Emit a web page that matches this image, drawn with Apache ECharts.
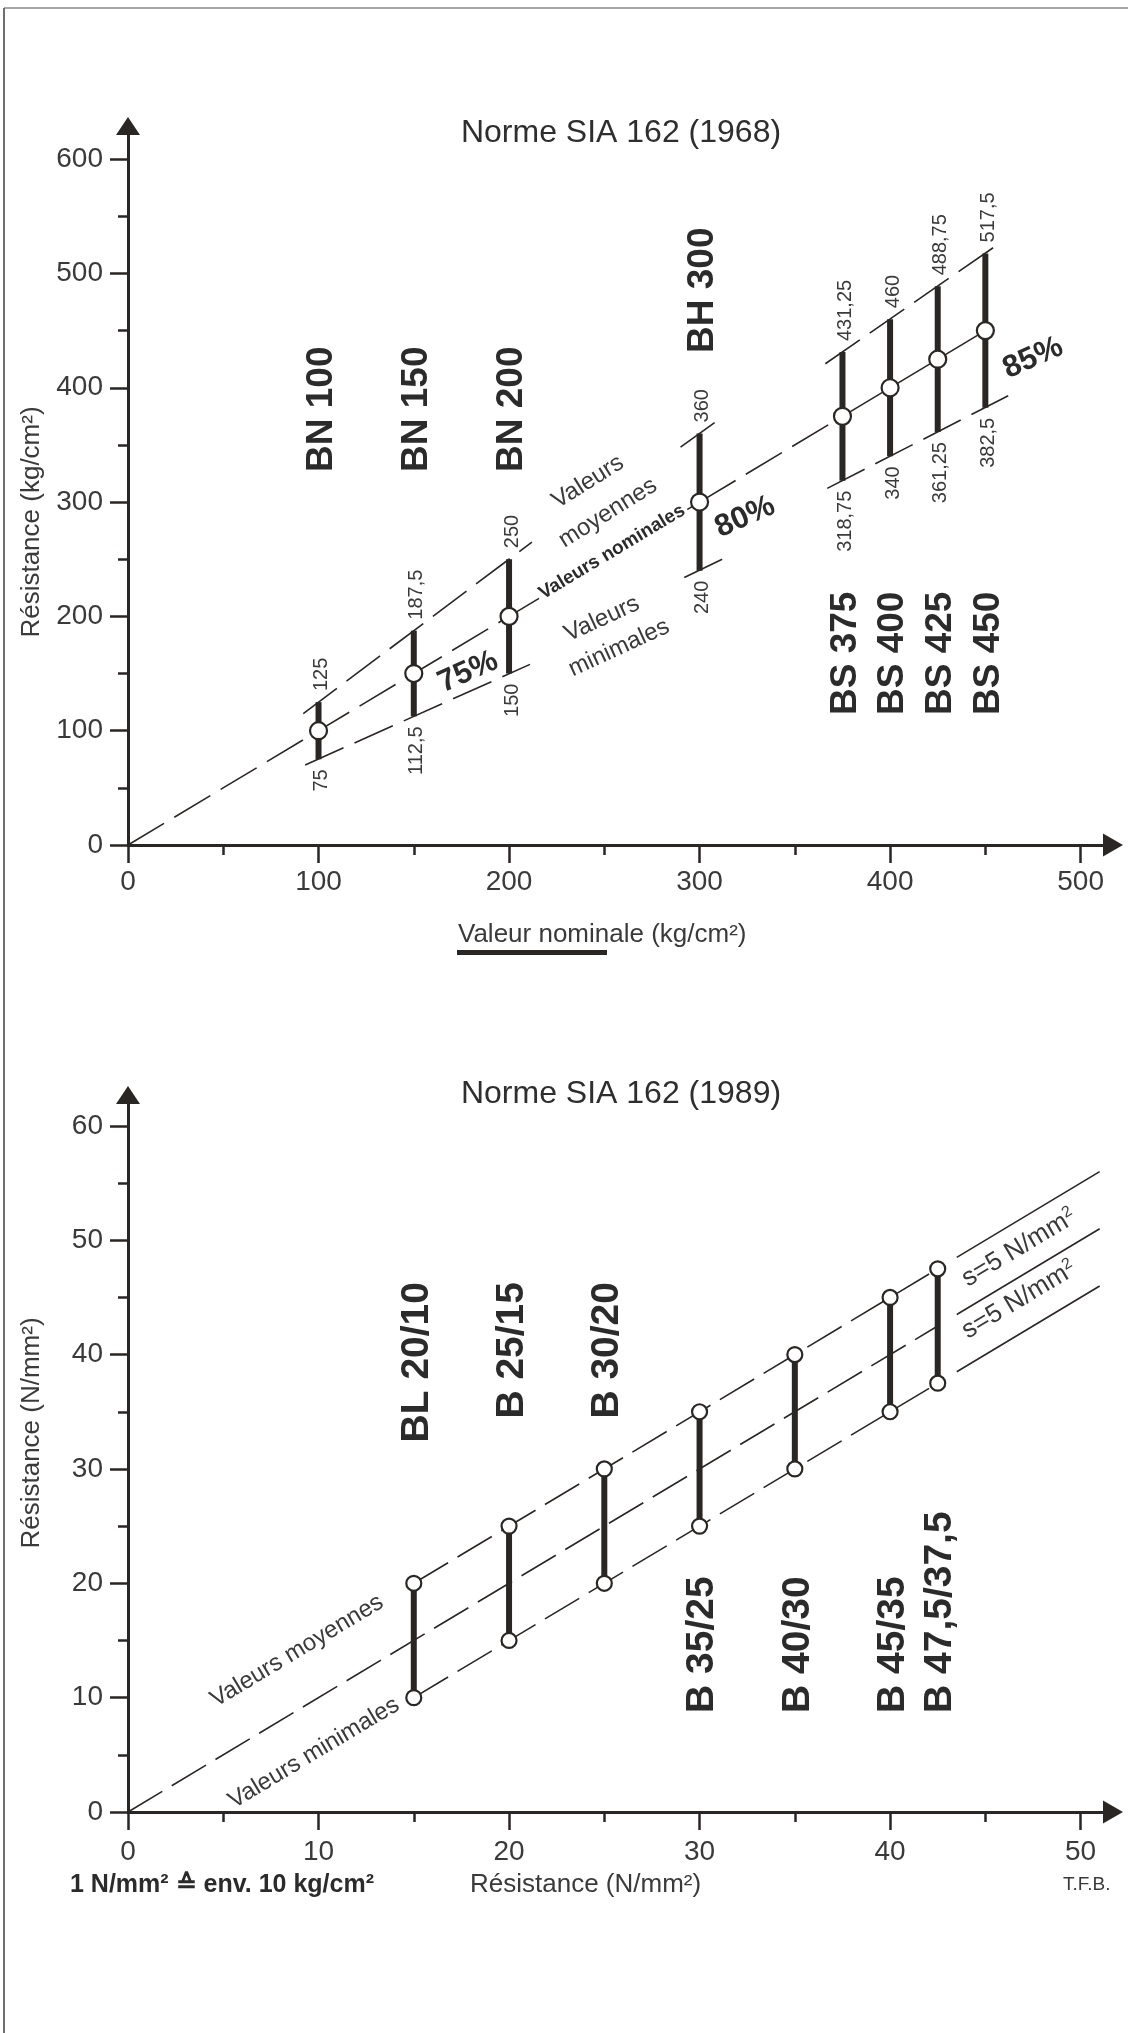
<!DOCTYPE html>
<html>
<head>
<meta charset="utf-8">
<script src="https://cdn.jsdelivr.net/npm/echarts@6/dist/echarts.min.js"></script>
<style>
  html, body { margin: 0; padding: 0; background: #fff; }
  #chart { width: 1128px; height: 2033px; }
</style>
</head>
<body>
<div id="chart"></div>
<script>
// ---------- Norme SIA 162 (1968), kg/cm2 ----------
const grades1968 = ['BN 100', 'BN 150', 'BN 200', 'BH 300', 'BS 375', 'BS 400', 'BS 425', 'BS 450'];
const nominal1968 = [100, 150, 200, 300, 375, 400, 425, 450];
const mean1968 = [125, 187.5, 250, 360, 431.25, 460, 488.75, 517.5];
const min1968 = [75, 112.5, 150, 240, 318.75, 340, 361.25, 382.5];
const pct1968 = ['75%', '80%', '85%'];
const xTicks1968 = [0, 100, 200, 300, 400, 500];
const xMinor1968 = [50, 150, 250, 350, 450];
const yTicks1968 = [0, 100, 200, 300, 400, 500, 600];
const yMinor1968 = [50, 150, 250, 350, 450, 550];

// guide lines, end points
const nominalDashed1968 = [[[0, 0], [200, 200]], [[300, 300], [375, 375]]];
const nominalText1968 = [[200, 200], [300, 300]];
const nominalSolid1968 = [[375, 375], [450, 450]];
const meanGuide1968 = [[[92, 115], [212, 265]], [[290, 348], [310, 372]], [[366, 421], [458, 527]]];
const minGuide1968 = [[[93, 70], [211, 158]], [[292, 234], [312, 250]], [[367, 312], [462, 393]]];

// ---------- Norme SIA 162 (1989), N/mm2 ----------
const grades1989 = ['BL 20/10', 'B 25/15', 'B 30/20', 'B 35/25', 'B 40/30', 'B 45/35', 'B 47,5/37,5'];
const nominal1989 = [15, 20, 25, 30, 35, 40, 42.5];
const mean1989 = [20, 25, 30, 35, 40, 45, 47.5];
const min1989 = [10, 15, 20, 25, 30, 35, 37.5];
const xTicks1989 = [0, 10, 20, 30, 40, 50];
const xMinor1989 = [5, 15, 25, 35, 45];
const yTicks1989 = [0, 10, 20, 30, 40, 50, 60];
const yMinor1989 = [5, 15, 25, 35, 45, 55];

const meanDashed1989 = [[15, 20], [42.5, 47.5]];
const nominalDashed1989 = [[0, 0], [42.5, 42.5]];
const minDashed1989 = [[15, 10], [42.5, 37.5]];
const meanSolid1989 = [[43.5, 48.5], [51, 56]];
const nominalSolid1989 = [[43.5, 43.5], [51, 51]];
const minSolid1989 = [[43.5, 38.5], [51, 46]];

const ink = '#2a2624';
const txt = '#3a3a3a';
const FONT = "'Liberation Sans', Arial, Helvetica, sans-serif";
const fmt = v => String(v).replace('.', ',');

function axes(kind, gridIndex, max, majors, minors, margin) {
  const x = kind === 'x';
  const major = {
    type: 'value', gridIndex: gridIndex, min: 0, max: max,
    position: x ? 'bottom' : 'left',
    splitLine: { show: false },
    axisLine: {
      show: true, onZero: false,
      symbol: ['none', 'triangle'],
      symbolSize: x ? [23, 20] : [24, 18],
      lineStyle: { color: ink, width: 3 }
    },
    axisTick: { show: true, inside: false, length: 18, customValues: majors, lineStyle: { color: ink, width: 2.5 } },
    axisLabel: { show: true, customValues: majors, margin: margin, color: txt, fontSize: 28, fontFamily: FONT }
  };
  const minor = {
    type: 'value', gridIndex: gridIndex, min: 0, max: max,
    position: x ? 'bottom' : 'left',
    splitLine: { show: false },
    axisLine: { show: false, onZero: false },
    axisTick: { show: true, inside: false, length: 10, customValues: minors, lineStyle: { color: ink, width: 2.5 } },
    axisLabel: { show: false }
  };
  return [major, minor];
}

function seg(pts, g, dash, width) {
  return {
    type: 'line', xAxisIndex: g * 2, yAxisIndex: g * 2,
    data: pts, symbol: 'none', silent: true, z: 2,
    lineStyle: { color: ink, width: width || 1.6, type: dash ? dash : 'solid' }
  };
}

function bars(g, xs, lows, highs, width) {
  return {
    type: 'custom', xAxisIndex: g * 2, yAxisIndex: g * 2, z: 3, silent: true,
    data: xs.map((v, i) => [v, lows[i], highs[i]]),
    encode: { x: 0, y: [1, 2] },
    renderItem: (params, api) => {
      const p0 = api.coord([api.value(0), api.value(1)]);
      const p1 = api.coord([api.value(0), api.value(2)]);
      return { type: 'line', shape: { x1: p0[0], y1: p0[1], x2: p1[0], y2: p1[1] }, style: { stroke: ink, lineWidth: width } };
    }
  };
}

function dots(g, pts, size) {
  return {
    type: 'scatter', xAxisIndex: g * 2, yAxisIndex: g * 2, z: 4, silent: true,
    data: pts, symbol: 'circle', symbolSize: size,
    itemStyle: { color: '#fff', borderColor: ink, borderWidth: 2.2, opacity: 1 }
  };
}

// value labels of the 1968 chart, written upward above / below each bar
const valueLabels1968 = {
  type: 'custom', xAxisIndex: 0, yAxisIndex: 0, z: 5, silent: true,
  data: nominal1968.map((v, i) => [v, min1968[i], mean1968[i]]),
  encode: { x: 0, y: [1, 2] },
  renderItem: (params, api) => {
    const top = api.coord([api.value(0), api.value(2)]);
    const bot = api.coord([api.value(0), api.value(1)]);
    const st = { fill: txt, fontSize: 20, fontFamily: FONT, verticalAlign: 'middle' };
    return {
      type: 'group', children: [
        { type: 'text', x: top[0] + 3, y: top[1] - 11, rotation: Math.PI / 2,
          style: Object.assign({ text: fmt(api.value(2)), align: 'left' }, st) },
        { type: 'text', x: bot[0] + 3, y: bot[1] + 10, rotation: Math.PI / 2,
          style: Object.assign({ text: fmt(api.value(1)), align: 'right' }, st) }
      ]
    };
  }
};

// grade names, vertical, start (align left) or end (align right) at a fixed pixel row
function gradeLabels(g, names, xs, rowOf, fontSize) {
  return {
    type: 'custom', xAxisIndex: g * 2, yAxisIndex: g * 2, z: 5, silent: true,
    data: xs.map(v => [v, 0]),
    encode: { x: 0, y: 1 },
    renderItem: (params, api) => {
      const p = api.coord([api.value(0), 0]);
      const row = rowOf(params.dataIndex);
      return {
        type: 'text', x: p[0] + 3, y: row[0], rotation: Math.PI / 2,
        style: { text: names[params.dataIndex], align: row[1], verticalAlign: 'middle',
          fill: '#2b2b2b', fontSize: fontSize, fontWeight: 'bold', fontFamily: FONT }
      };
    }
  };
}

const row1968 = i => grades1968[i].startsWith('BN') ? [472, 'left'] : grades1968[i].startsWith('BH') ? [353, 'left'] : [715, 'left'];
const row1989 = i => i < 3 ? [1282, 'right'] : [1713, 'left'];

const [x1, x1m] = axes('x', 0, 517, xTicks1968, xMinor1968, 23);
const [y1, y1m] = axes('y', 0, 629, yTicks1968, yMinor1968, 25);
const [x2, x2m] = axes('x', 1, 51.7, xTicks1989, xMinor1989, 26);
const [y2, y2m] = axes('y', 1, 62.7, yTicks1989, yMinor1989, 25);

const dash1 = [42, 12];
const dash2 = [40, 11];

const series = [];
// 1968
nominalDashed1968.forEach(s => series.push(seg(s, 0, dash1)));
series.push(seg(nominalText1968, 0));
series.push(seg(nominalSolid1968, 0));
meanGuide1968.forEach(s => series.push(seg(s, 0, dash1)));
minGuide1968.forEach(s => series.push(seg(s, 0, dash1)));
series.push(bars(0, nominal1968, min1968, mean1968, 6));
series.push(dots(0, nominal1968.map(v => [v, v]), 17));
series.push(valueLabels1968);
series.push(gradeLabels(0, grades1968, nominal1968, row1968, 37));
// 1989
[meanDashed1989, nominalDashed1989, minDashed1989].forEach(s => series.push(seg(s, 1, dash2)));
[meanSolid1989, nominalSolid1989, minSolid1989].forEach(s => series.push(seg(s, 1)));
series.push(bars(1, nominal1989, min1989, mean1989, 6));
series.push(dots(1, nominal1989.map((v, i) => [v, mean1989[i]]).concat(nominal1989.map((v, i) => [v, min1989[i]])), 15));
series.push(gradeLabels(1, grades1989, nominal1989, row1989, 39));

function label(text, x, y, opts) {
  const o = opts || {};
  return {
    type: 'text', x: x, y: y, rotation: o.rot || 0, z: 100,
    style: Object.assign({
      text: text, fill: o.fill || txt, fontSize: o.size || 24, fontFamily: FONT,
      fontWeight: o.bold ? 'bold' : 'normal', align: o.align || 'center', verticalAlign: 'middle'
    }, o.extra || {})
  };
}

const sup = { sup: { fontSize: 16, verticalAlign: 'top', padding: [0, 0, 12, 0], fill: txt, fontFamily: FONT } };

const graphic = [
  // scan frame
  { type: 'line', shape: { x1: 4, y1: 8, x2: 1128, y2: 8 }, style: { stroke: '#8a8a8a', lineWidth: 1.5 } },
  { type: 'line', shape: { x1: 4, y1: 8, x2: 4, y2: 2033 }, style: { stroke: '#6e6e6e', lineWidth: 2 } },

  label('Norme SIA 162 (1968)', 621, 133, { size: 32, fill: '#2e2e2e' }),
  label('Norme SIA 162 (1989)', 621, 1094, { size: 32, fill: '#2e2e2e' }),

  label('Résistance (kg/cm²)', 32, 522, { rot: Math.PI / 2, size: 26 }),
  label('Résistance (N/mm²)', 32, 1433, { rot: Math.PI / 2, size: 26 }),

  label('Valeur nominale (kg/cm²)', 458, 935, { align: 'left', size: 26 }),
  { type: 'rect', shape: { x: 457, y: 950, width: 150, height: 5 }, style: { fill: ink } },

  // 1968 annotations
  label('Valeurs', 588, 482, { rot: 0.56 }),
  label('moyennes', 608, 513, { rot: 0.56 }),
  label('Valeurs nominales', 612, 552, { rot: 0.54, size: 19, bold: true, fill: '#2b2b2b',
    extra: { backgroundColor: '#fff', padding: [0, 3] } }),
  label('Valeurs', 602, 619, { rot: 0.43 }),
  label('minimales', 619, 648, { rot: 0.43 }),
  label(pct1968[0], 468, 672, { rot: 0.42, size: 31, bold: true, fill: '#2b2b2b' }),
  label(pct1968[1], 745, 517, { rot: 0.42, size: 31, bold: true, fill: '#2b2b2b' }),
  label(pct1968[2], 1033, 358, { rot: 0.42, size: 31, bold: true, fill: '#2b2b2b' }),

  // 1989 annotations
  label('Valeurs moyennes', 297, 1651, { rot: 0.54 }),
  label('Valeurs minimales', 314, 1753, { rot: 0.54 }),
  label('s=5 N/mm{sup|2}', 1019, 1248, { rot: 0.54, size: 26, extra: { rich: sup } }),
  label('s=5 N/mm{sup|2}', 1019, 1300, { rot: 0.54, size: 26, extra: { rich: sup } }),

  // footer
  label('1 N/mm² ≙ env. 10 kg/cm²', 70, 1885, { align: 'left', size: 25, bold: true, fill: '#2b2b2b' }),
  label('Résistance (N/mm²)', 470, 1885, { align: 'left', size: 26 }),
  label('T.F.B.', 1063, 1885, { align: 'left', size: 19 })
];

const chart = echarts.init(document.getElementById('chart'), null, { renderer: 'canvas' });
chart.setOption({
  animation: false,
  backgroundColor: '#fff',
  grid: [
    { left: 128, top: 126, width: 985, height: 719 },
    { left: 128, top: 1095, width: 985, height: 717 }
  ],
  xAxis: [x1, x1m, x2, x2m],
  yAxis: [y1, y1m, y2, y2m],
  series: series,
  graphic: graphic
});
</script>
</body>
</html>
